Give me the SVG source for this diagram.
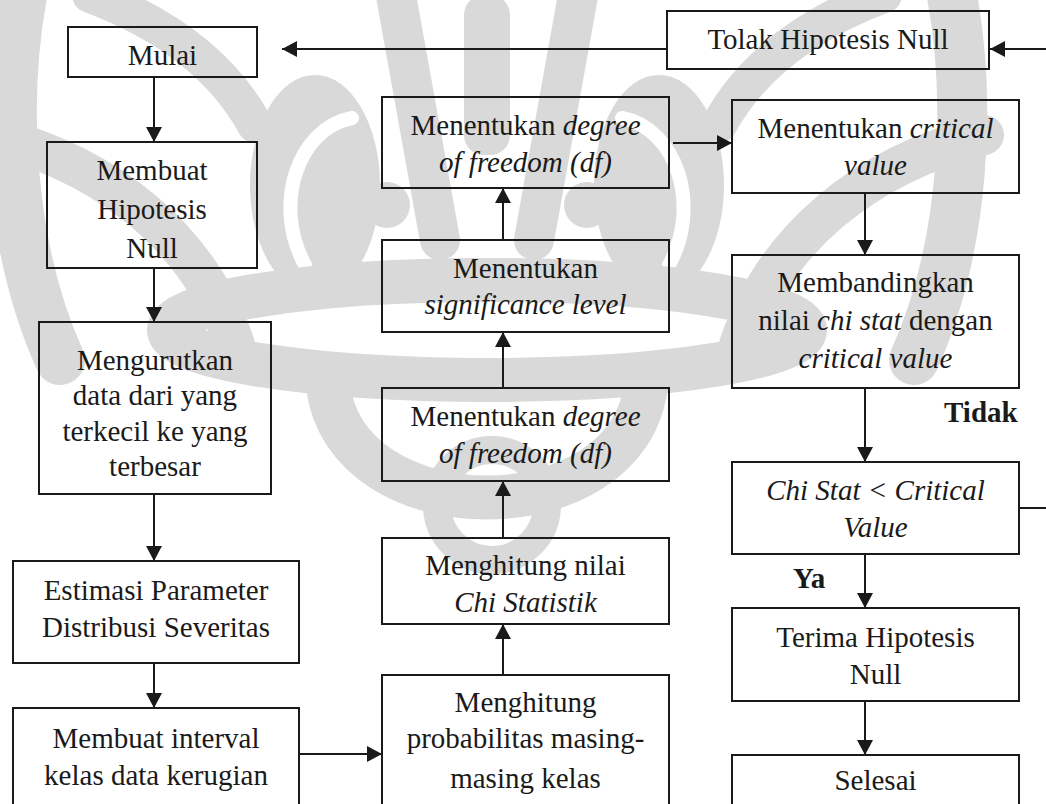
<svg xmlns="http://www.w3.org/2000/svg" width="1046" height="804" viewBox="0 0 1046 804">
  <style>
    .box { fill: none; stroke: #1a1a1a; stroke-width: 2; }
    .t { font-family: "Liberation Serif", "Times New Roman", serif; font-size: 29px; fill: #1a1a1a; text-anchor: middle; }
    .i { font-style: italic; }
    .lbl { font-family: "Liberation Serif", "Times New Roman", serif; font-size: 29px; font-weight: bold; fill: #1a1a1a; }
    .c { fill: none; stroke: #1a1a1a; stroke-width: 2; }
    .wm { fill: none; stroke: #d9d9d9; stroke-linecap: round; }
    .wmf { fill: #d9d9d9; }
    .gap { fill: none; stroke: #ffffff; stroke-linecap: round; }
  </style>
  <defs>
    <marker id="arrow" viewBox="0 0 15 16" refX="15" refY="8" markerWidth="15" markerHeight="16" markerUnits="userSpaceOnUse" orient="auto">
      <path d="M0,0 L15,8 L0,16 Z" fill="#1a1a1a"/>
    </marker>
  </defs>

  <rect width="1046" height="804" fill="#ffffff"/>

  <!-- faint background emblem, drawn symmetric about x=487 -->
  <g id="emblem">
    <path class="wm" stroke-width="50" d="M25,-20 C0,100 10,250 60,360"/>
    <path class="wm" stroke-width="50" d="M949,-20 C974,100 964,250 914,360"/>
    <path class="wm" stroke-width="40" d="M-10,135 C110,165 200,240 235,345"/>
    <path class="wm" stroke-width="40" d="M984,135 C864,165 774,240 739,345"/>
    <path class="wm" stroke-width="36" d="M90,-5 C170,25 225,70 255,125"/>
    <path class="wm" stroke-width="36" d="M884,-5 C804,25 749,70 719,125"/>
    <ellipse class="wmf" cx="315" cy="185" rx="65" ry="110"/>
    <ellipse class="wmf" cx="659" cy="185" rx="65" ry="110"/>
    <path class="gap" stroke-width="14" d="M305,265 C272,205 298,128 352,118"/>
    <path class="gap" stroke-width="14" d="M669,265 C702,205 676,128 622,118"/>
    <circle class="wmf" cx="387" cy="205" r="23"/>
    <circle class="wmf" cx="587" cy="205" r="23"/>
    <rect class="wmf" x="464" y="-5" width="46" height="160" rx="20"/>
    <path class="wm" stroke-width="40" d="M395,-10 L440,240"/>
    <path class="wm" stroke-width="40" d="M579,-10 L534,240"/>
    <ellipse class="wm" stroke-width="44" cx="487" cy="330" rx="318" ry="50"/>
    <path class="wm" stroke-width="44" d="M328,385 C345,535 629,535 646,385"/>
    <circle class="wm" stroke-width="28" cx="492" cy="505" r="55"/>
  </g>

  <g id="connectors">
    <line class="c" x1="154" y1="77" x2="154" y2="142" marker-end="url(#arrow)"/>
    <line class="c" x1="154" y1="268" x2="154" y2="322" marker-end="url(#arrow)"/>
    <line class="c" x1="154" y1="494" x2="154" y2="561" marker-end="url(#arrow)"/>
    <line class="c" x1="154" y1="663" x2="154" y2="708" marker-end="url(#arrow)"/>
    <line class="c" x1="299" y1="754" x2="382" y2="754" marker-end="url(#arrow)"/>
    <line class="c" x1="503" y1="675" x2="503" y2="624" marker-end="url(#arrow)"/>
    <line class="c" x1="503" y1="538" x2="503" y2="481" marker-end="url(#arrow)"/>
    <line class="c" x1="503" y1="388" x2="503" y2="332" marker-end="url(#arrow)"/>
    <line class="c" x1="503" y1="240" x2="503" y2="188" marker-end="url(#arrow)"/>
    <line class="c" x1="673" y1="143" x2="732" y2="143" marker-end="url(#arrow)"/>
    <line class="c" x1="865" y1="193" x2="865" y2="255" marker-end="url(#arrow)"/>
    <line class="c" x1="865" y1="388" x2="865" y2="462" marker-end="url(#arrow)"/>
    <line class="c" x1="865" y1="554" x2="865" y2="608" marker-end="url(#arrow)"/>
    <line class="c" x1="865" y1="701" x2="865" y2="755" marker-end="url(#arrow)"/>
    <path class="c" d="M1019,508 L1070,508 L1070,49 L990,49" marker-end="url(#arrow)"/>
    <line class="c" x1="667" y1="49" x2="282" y2="49" marker-end="url(#arrow)"/>
    <text class="lbl" x="944" y="422">Tidak</text>
    <text class="lbl" x="793" y="588">Ya</text>
  </g>

  <g id="mulai">
    <rect class="box" x="68" y="27" width="189" height="50"/>
    <text class="t" x="162.5" y="65">Mulai</text>
  </g>
  <g id="membuat-hipotesis">
    <rect class="box" x="47" y="142" width="210" height="126"/>
    <text class="t" x="152" y="180">Membuat</text>
    <text class="t" x="152" y="219">Hipotesis</text>
    <text class="t" x="152" y="258">Null</text>
  </g>
  <g id="mengurutkan">
    <rect class="box" x="39" y="322" width="232" height="172"/>
    <text class="t" x="155" y="370">Mengurutkan</text>
    <text class="t" x="155" y="405">data dari yang</text>
    <text class="t" x="155" y="441">terkecil ke yang</text>
    <text class="t" x="155" y="476">terbesar</text>
  </g>
  <g id="estimasi">
    <rect class="box" x="13" y="561" width="286" height="102"/>
    <text class="t" x="156" y="600">Estimasi Parameter</text>
    <text class="t" x="156" y="637">Distribusi Severitas</text>
  </g>
  <g id="interval">
    <rect class="box" x="13" y="708" width="286" height="110"/>
    <text class="t" x="156" y="748">Membuat interval</text>
    <text class="t" x="156" y="785">kelas data kerugian</text>
  </g>
  <g id="probabilitas">
    <rect class="box" x="382" y="675" width="287" height="143"/>
    <text class="t" x="525.5" y="712">Menghitung</text>
    <text class="t" x="525.5" y="748">probabilitas masing-</text>
    <text class="t" x="525.5" y="788">masing kelas</text>
  </g>
  <g id="chi-statistik">
    <rect class="box" x="382" y="538" width="287" height="86"/>
    <text class="t" x="525.5" y="575">Menghitung nilai</text>
    <text class="t i" x="525.5" y="612">Chi Statistik</text>
  </g>
  <g id="degree-2">
    <rect class="box" x="382" y="388" width="287" height="93"/>
    <text class="t" x="525.5" y="426">Menentukan <tspan class="i">degree</tspan></text>
    <text class="t i" x="525.5" y="463">of freedom (df)</text>
  </g>
  <g id="significance">
    <rect class="box" x="382" y="240" width="287" height="92"/>
    <text class="t" x="525.5" y="278">Menentukan</text>
    <text class="t i" x="525.5" y="314">significance level</text>
  </g>
  <g id="degree-1">
    <rect class="box" x="382" y="97" width="287" height="91"/>
    <text class="t" x="525.5" y="135">Menentukan <tspan class="i">degree</tspan></text>
    <text class="t i" x="525.5" y="172">of freedom (df)</text>
  </g>
  <g id="tolak">
    <rect class="box" x="667" y="11" width="322" height="58"/>
    <text class="t" x="828" y="49">Tolak Hipotesis Null</text>
  </g>
  <g id="critical">
    <rect class="box" x="732" y="100" width="287" height="93"/>
    <text class="t" x="875.5" y="138">Menentukan <tspan class="i">critical</tspan></text>
    <text class="t i" x="875.5" y="175">value</text>
  </g>
  <g id="membandingkan">
    <rect class="box" x="732" y="255" width="287" height="133"/>
    <text class="t" x="875.5" y="292">Membandingkan</text>
    <text class="t" x="875.5" y="330">nilai <tspan class="i">chi stat</tspan> dengan</text>
    <text class="t i" x="875.5" y="368">critical value</text>
  </g>
  <g id="keputusan">
    <rect class="box" x="732" y="462" width="287" height="92"/>
    <text class="t i" x="875.5" y="500">Chi Stat &lt; Critical</text>
    <text class="t i" x="875.5" y="537">Value</text>
  </g>
  <g id="terima">
    <rect class="box" x="732" y="608" width="287" height="93"/>
    <text class="t" x="875.5" y="647">Terima Hipotesis</text>
    <text class="t" x="875.5" y="684">Null</text>
  </g>
  <g id="selesai">
    <rect class="box" x="732" y="755" width="287" height="63"/>
    <text class="t" x="875.5" y="790">Selesai</text>
  </g>
</svg>
